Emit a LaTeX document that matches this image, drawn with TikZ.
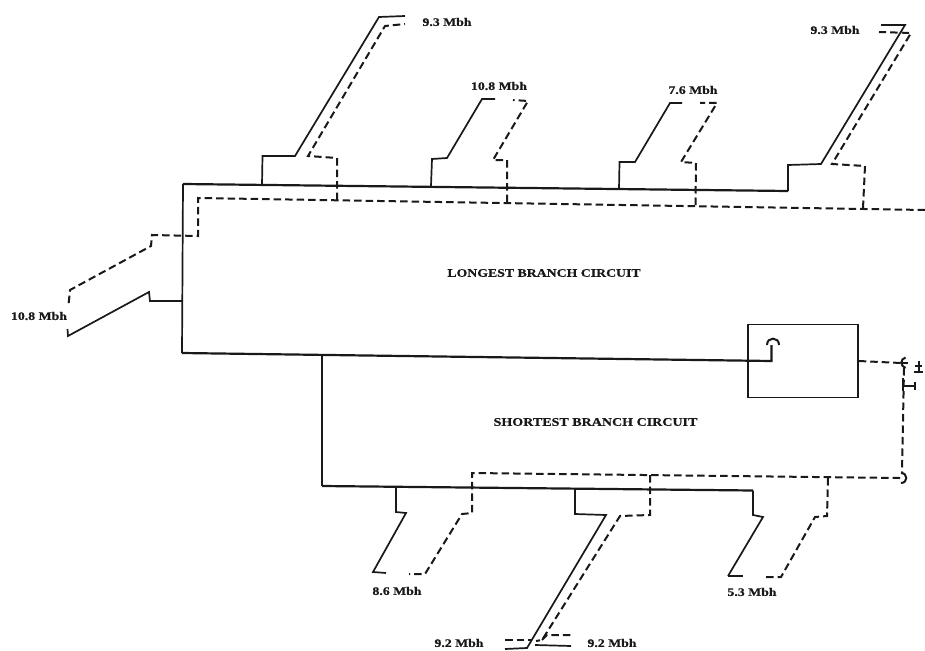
\documentclass[tikz,border=0pt]{standalone}
\usepackage{fontspec}
\setmainfont{Liberation Serif}[FakeStretch=1.2,BoldFeatures={FakeBold=0.5}]
\tikzset{
  pipe/.style={draw=black!90,line width=1.7pt,line join=miter},
  mainpipe/.style={pipe,line width=2.2pt},
  ret/.style={draw=black!90,line width=2pt,dash pattern=on 7.5pt off 4pt},
  lab/.style={font=\fontsize{11.5pt}{13pt}\selectfont\bfseries,text=black!90,inner sep=0pt},
  unitbox/.style={draw=black!90,line width=1.5pt,minimum width=110pt,minimum height=73pt,inner sep=0pt},
  fit/.style={draw=black!90,line width=2pt}
}
\begin{document}
\begin{tikzpicture}[x=1pt,y=-1pt]
\useasboundingbox[fill=white] (0,0) rectangle (925,650);
% named junctions
\coordinate (TL) at (183,184);
\coordinate (BL) at (182,353);
\coordinate (TR) at (788,191);
\coordinate (HookIn) at (771.5,361);
\coordinate (LowT) at (322,355);
\coordinate (LowB) at (322,486);
\coordinate (LowR) at (753,490.5);
\coordinate (RetE) at (925,210);
\coordinate (RetW) at (198,198);
\coordinate (LoRetW) at (472,473);
\coordinate (LoRetE) at (900,478);
\coordinate (Hook) at (904,368);
\node[unitbox] (unit) at (803,361) {};
% supply main
\draw[mainpipe] (TR) -- (TL);
\draw[pipe] (TL) -- (BL);
\draw[mainpipe] (BL) -- (HookIn) -- (771.5,345);
\draw[fit] (767,345) .. controls (767,336.5) and (779,336.5) .. (779,345);
\draw[pipe] (LowT) -- (LowB);
\draw[mainpipe] (LowB) -- (LowR);
\draw[pipe] (LowR) -- (753,515) -- (763,517) -- (728,576);
\draw[mainpipe] (728,576) -- (743,576);
% top branches, supply
\draw[pipe] (262,184.5) -- (262.5,156) -- (295,156) -- (379,17) -- (405,16);
\draw[pipe] (431,186) -- (432,159) -- (447,158) -- (482,99) -- (495,99);
\draw[pipe] (619,189) -- (619.5,162) -- (635,162) -- (670,103) -- (682,103);
\draw[pipe] (TR) -- (788,165) -- (821,164) -- (905,25) -- (881,25);
% left branch, supply
\draw[pipe] (182,301) -- (150,301) -- (149,292) -- (68,336) -- (67.5,329);
% bottom branches, supply
\draw[pipe] (396,487) -- (396,512) -- (406,513) -- (373,572) -- (386,573);
\draw[pipe] (575,489) -- (575,514) -- (606,515) -- (527,648) -- (505,649);
\draw[pipe] (535,645) -- (571,646);
% return main
\draw[ret] (RetE) -- (RetW) -- (198,236) -- (152,235) -- (151,246) -- (70,290) -- (68.5,305);
% top branches, return
\draw[ret] (337,200) -- (337,158) -- (308,156) -- (385,26) -- (405,24);
\draw[ret] (507,202) -- (507,160) -- (493,160) -- (528,101) -- (513,100);
\draw[ret] (695.5,205) -- (696,163) -- (681,162) -- (717,103) -- (700,103);
\draw[ret] (863,208) -- (865,166) -- (832,164) -- (911,33) -- (879,32);
% lower return
\draw[ret] (unit.east) -- (901,363);
\draw[ret] (Hook) -- (902,473);
\draw[ret] (LoRetE) -- (LoRetW) -- (472,513) -- (462,514) -- (425,574) -- (409,574);
\draw[ret] (650,475) -- (650,515) -- (620,516) -- (542,640) -- (536,641);
\draw[ret] (505,640) -- (531,640);
\draw[ret] (542,640) -- (547,635) -- (572,635);
\draw[ret] (828,478) -- (827,516) -- (815,517) -- (781,577) -- (763,577);
% fittings
\draw[fit] (905.5,357.5) .. controls (900,359) and (900,366) .. (905.5,368);
\draw[fit] (901,363) -- (908,363);
\draw[fit,line width=2.4pt] (919,361) -- (919,372) (915,366) -- (922,366) (914,372) -- (923,372);
\draw[fit,line width=2.4pt] (903,378) -- (903,391) (903,386) -- (915,386) (915,381.5) -- (915,390);
\draw[fit] (901,473) .. controls (908,473) and (908,483) .. (901,483);
% labels
\node[lab] (a1) at (447,22) {9.3 Mbh};
\node[lab] (a2) at (499,86) {10.8 Mbh};
\node[lab] (a3) at (693,90) {7.6 Mbh};
\node[lab] (a4) at (835,30) {9.3 Mbh};
\node[lab] (a5) at (39,316) {10.8 Mbh};
\node[lab] (a6) at (397,591) {8.6 Mbh};
\node[lab] (a7) at (752,592) {5.3 Mbh};
\node[lab] (a8) at (459,643) {9.2 Mbh};
\node[lab] (a9) at (612,643) {9.2 Mbh};
\node[lab] (long) at (544,273) {LONGEST BRANCH CIRCUIT};
\node[lab,font=\fontsize{11.7pt}{13pt}\selectfont\bfseries] (short) at (595.5,422) {SHORTEST BRANCH CIRCUIT};
\end{tikzpicture}
\end{document}
